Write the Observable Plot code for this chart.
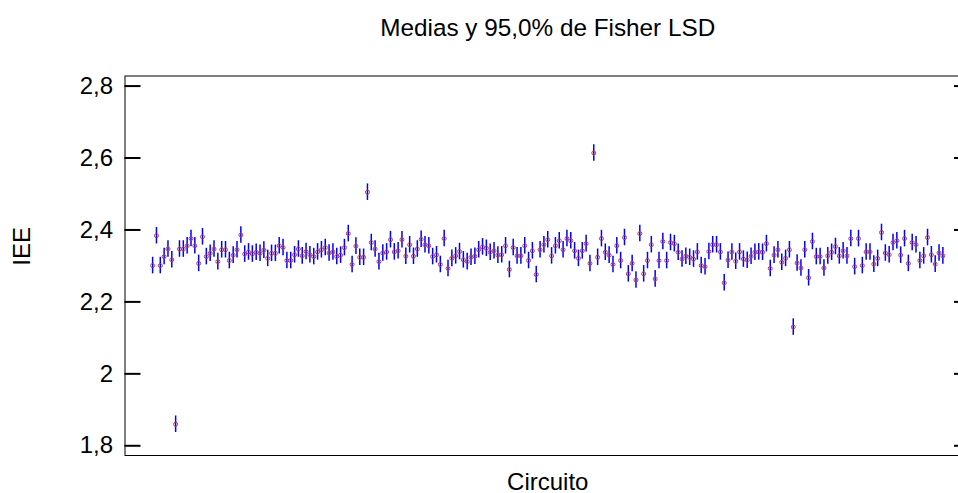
<!DOCTYPE html>
<html><head><meta charset="utf-8">
<script src="https://cdn.jsdelivr.net/npm/d3@7"></script>
<script src="https://cdn.jsdelivr.net/npm/@observablehq/plot@0.6"></script>
<style>body{margin:0;background:#fff} #c{width:958px;height:493px;overflow:hidden} #c svg{max-width:none !important;}</style>
</head><body><div id="c"></div>
<script>
const title = "Medias y 95,0% de Fisher LSD";
const xLabel = "Circuito";
const yLabel = "IEE";
const yTicks = [1.8, 2.0, 2.2, 2.4, 2.6, 2.8];
const lsdHalf = 0.023;
const means = [
2.301,2.384,2.301,2.326,2.347,2.317,1.860,2.347,2.347,2.356,
2.376,2.356,2.307,2.381,2.326,2.335,2.347,2.312,2.345,2.345,
2.315,2.330,2.345,2.386,2.333,2.339,2.333,2.338,2.335,2.344,
2.321,2.335,2.335,2.356,2.351,2.315,2.315,2.331,2.347,2.328,
2.340,2.331,2.326,2.339,2.345,2.351,2.336,2.339,2.326,2.330,
2.351,2.390,2.304,2.355,2.324,2.324,2.505,2.365,2.347,2.312,
2.336,2.339,2.373,2.339,2.342,2.373,2.327,2.359,2.327,2.347,
2.374,2.359,2.356,2.326,2.331,2.304,2.376,2.293,2.321,2.328,
2.340,2.317,2.312,2.324,2.327,2.345,2.353,2.349,2.338,2.342,
2.330,2.331,2.356,2.290,2.351,2.328,2.328,2.356,2.315,2.342,
2.276,2.345,2.359,2.373,2.328,2.356,2.370,2.345,2.376,2.370,
2.342,2.321,2.342,2.362,2.307,2.614,2.324,2.376,2.338,2.330,
2.304,2.356,2.315,2.379,2.278,2.307,2.261,2.390,2.278,2.315,
2.359,2.264,2.315,2.368,2.315,2.365,2.362,2.338,2.319,2.327,
2.324,2.319,2.339,2.301,2.298,2.340,2.359,2.359,2.339,2.253,
2.316,2.339,2.313,2.339,2.319,2.316,2.327,2.338,2.339,2.338,
2.362,2.293,2.330,2.345,2.310,2.321,2.345,2.130,2.308,2.294,
2.345,2.267,2.368,2.326,2.326,2.294,2.328,2.338,2.354,2.328,
2.342,2.328,2.376,2.298,2.376,2.301,2.339,2.339,2.305,2.321,
2.393,2.336,2.331,2.365,2.370,2.330,2.376,2.307,2.365,2.359,
2.315,2.328,2.379,2.331,2.305,2.336,2.328
];
const circuits = means.map((_, i) => i + 1);
const data = circuits.map((c, i) => ({circuito: c, mean: means[i], lo: means[i] - lsdHalf, hi: means[i] + lsdHalf}));
const tickData = yTicks.map(v => ({v}));
const fmt = d => String(d).replace(".", ",");
const font = "'Liberation Sans', Arial, sans-serif";
const W = 971, ML = 124.5, MR = 1;
const tickLen = 16;
const xDom = [-6.2, circuits.length + 7.2];
const innerW = W - ML - MR;
const chart = Plot.plot({
  width: W, height: 493,
  marginLeft: ML, marginRight: MR, marginTop: 75.5, marginBottom: 38,
  style: {fontFamily: font, fontSize: "24px", color: "#000", background: "#fff", overflow: "visible", maxWidth: "none"},
  x: {domain: xDom, axis: null},
  y: {domain: [1.773, 2.828], axis: null},
  marks: [
    Plot.frame({stroke: "#000"}),
    Plot.axisY(yTicks, {anchor: "left", tickSize: 0, tickPadding: 12, tickFormat: fmt, fontSize: 24, label: null, fill: "#000"}),
    Plot.tickY(tickData, {y: "v", insetRight: innerW - tickLen, stroke: "#000", strokeWidth: 2}),
    Plot.tickY(tickData, {y: "v", insetLeft: innerW - tickLen, stroke: "#000", strokeWidth: 2}),
    Plot.ruleX(data, {x: "circuito", y1: "lo", y2: "hi", stroke: "#0000ff", strokeWidth: 1.5}),
    Plot.dot(data, {x: "circuito", y: "mean", r: 2, stroke: "#b03a6a", strokeWidth: 1}),
    Plot.text([title], {frameAnchor: "top", dy: -57, fontSize: 24.3, text: d => d, fill: "#000"}),
    Plot.text([xLabel], {frameAnchor: "bottom", dy: 34, fontSize: 24, text: d => d, fill: "#000"}),
    Plot.text([yLabel], {frameAnchor: "left", dx: -102.5, rotate: -90, fontSize: 24, text: d => d, fill: "#000"})
  ]
});
document.getElementById("c").appendChild(chart);
</script>
</body></html>
